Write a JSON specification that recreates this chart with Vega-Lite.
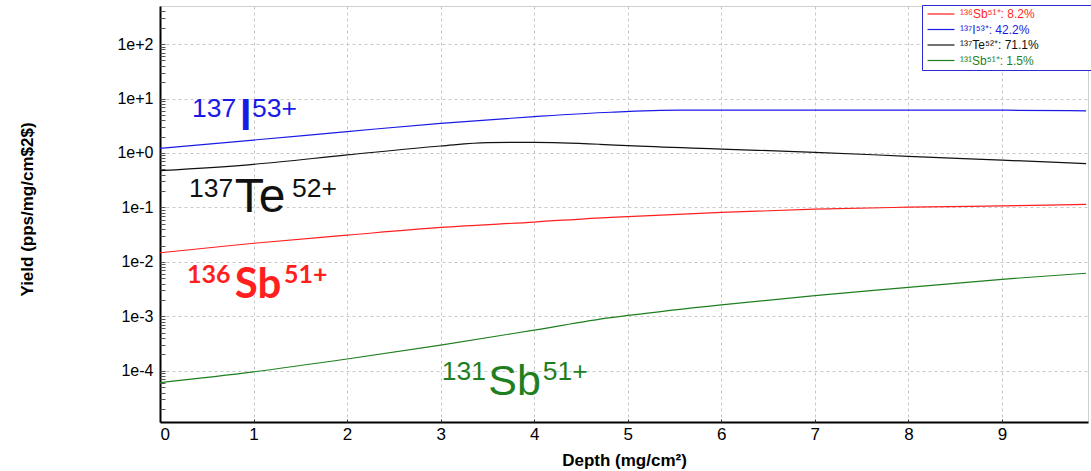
{
  "$schema": "https://vega.github.io/schema/vega-lite/v6.json",
  "width": 928,
  "height": 416,
  "autosize": "none",
  "padding": {"left": 160, "top": 6, "right": 3, "bottom": 49},
  "background": "white",
  "config": {"view": {"stroke": "#d0d0d0"}, "font": "Liberation Sans"},
  "datasets": {
    "lines": [
      {"depth": 0, "yield": 0.0147, "series": "¹³⁶Sb⁵¹⁺: 8.2%"},
      {"depth": 1, "yield": 0.022, "series": "¹³⁶Sb⁵¹⁺: 8.2%"},
      {"depth": 2, "yield": 0.031, "series": "¹³⁶Sb⁵¹⁺: 8.2%"},
      {"depth": 3, "yield": 0.043, "series": "¹³⁶Sb⁵¹⁺: 8.2%"},
      {"depth": 4, "yield": 0.054, "series": "¹³⁶Sb⁵¹⁺: 8.2%"},
      {"depth": 4.82, "yield": 0.066, "series": "¹³⁶Sb⁵¹⁺: 8.2%"},
      {"depth": 5, "yield": 0.068, "series": "¹³⁶Sb⁵¹⁺: 8.2%"},
      {"depth": 6, "yield": 0.081, "series": "¹³⁶Sb⁵¹⁺: 8.2%"},
      {"depth": 7, "yield": 0.093, "series": "¹³⁶Sb⁵¹⁺: 8.2%"},
      {"depth": 8, "yield": 0.101, "series": "¹³⁶Sb⁵¹⁺: 8.2%"},
      {"depth": 9, "yield": 0.107, "series": "¹³⁶Sb⁵¹⁺: 8.2%"},
      {"depth": 9.9, "yield": 0.114, "series": "¹³⁶Sb⁵¹⁺: 8.2%"},
      {"depth": 0, "yield": 1.22, "series": "¹³⁷I⁵³⁺: 42.2%"},
      {"depth": 1, "yield": 1.73, "series": "¹³⁷I⁵³⁺: 42.2%"},
      {"depth": 2, "yield": 2.47, "series": "¹³⁷I⁵³⁺: 42.2%"},
      {"depth": 3, "yield": 3.51, "series": "¹³⁷I⁵³⁺: 42.2%"},
      {"depth": 4, "yield": 4.65, "series": "¹³⁷I⁵³⁺: 42.2%"},
      {"depth": 4.82, "yield": 5.6, "series": "¹³⁷I⁵³⁺: 42.2%"},
      {"depth": 5.56, "yield": 6.1, "series": "¹³⁷I⁵³⁺: 42.2%"},
      {"depth": 6, "yield": 6.1, "series": "¹³⁷I⁵³⁺: 42.2%"},
      {"depth": 7, "yield": 6.1, "series": "¹³⁷I⁵³⁺: 42.2%"},
      {"depth": 8, "yield": 6.1, "series": "¹³⁷I⁵³⁺: 42.2%"},
      {"depth": 9.05, "yield": 6.1, "series": "¹³⁷I⁵³⁺: 42.2%"},
      {"depth": 9.9, "yield": 5.95, "series": "¹³⁷I⁵³⁺: 42.2%"},
      {"depth": 0, "yield": 0.473, "series": "¹³⁷Te⁵²⁺: 71.1%"},
      {"depth": 1, "yield": 0.62, "series": "¹³⁷Te⁵²⁺: 71.1%"},
      {"depth": 2, "yield": 0.92, "series": "¹³⁷Te⁵²⁺: 71.1%"},
      {"depth": 3, "yield": 1.345, "series": "¹³⁷Te⁵²⁺: 71.1%"},
      {"depth": 3.5, "yield": 1.55, "series": "¹³⁷Te⁵²⁺: 71.1%"},
      {"depth": 4, "yield": 1.57, "series": "¹³⁷Te⁵²⁺: 71.1%"},
      {"depth": 4.7, "yield": 1.445, "series": "¹³⁷Te⁵²⁺: 71.1%"},
      {"depth": 5, "yield": 1.36, "series": "¹³⁷Te⁵²⁺: 71.1%"},
      {"depth": 6, "yield": 1.18, "series": "¹³⁷Te⁵²⁺: 71.1%"},
      {"depth": 7, "yield": 1.03, "series": "¹³⁷Te⁵²⁺: 71.1%"},
      {"depth": 8, "yield": 0.87, "series": "¹³⁷Te⁵²⁺: 71.1%"},
      {"depth": 9, "yield": 0.74, "series": "¹³⁷Te⁵²⁺: 71.1%"},
      {"depth": 9.9, "yield": 0.636, "series": "¹³⁷Te⁵²⁺: 71.1%"},
      {"depth": 0, "yield": 0.000061, "series": "¹³¹Sb⁵¹⁺: 1.5%"},
      {"depth": 1, "yield": 0.000096, "series": "¹³¹Sb⁵¹⁺: 1.5%"},
      {"depth": 2, "yield": 0.000165, "series": "¹³¹Sb⁵¹⁺: 1.5%"},
      {"depth": 3, "yield": 0.000297, "series": "¹³¹Sb⁵¹⁺: 1.5%"},
      {"depth": 4, "yield": 0.00056, "series": "¹³¹Sb⁵¹⁺: 1.5%"},
      {"depth": 4.82, "yield": 0.00095, "series": "¹³¹Sb⁵¹⁺: 1.5%"},
      {"depth": 5, "yield": 0.00104, "series": "¹³¹Sb⁵¹⁺: 1.5%"},
      {"depth": 6, "yield": 0.00163, "series": "¹³¹Sb⁵¹⁺: 1.5%"},
      {"depth": 7, "yield": 0.0024, "series": "¹³¹Sb⁵¹⁺: 1.5%"},
      {"depth": 8, "yield": 0.0034, "series": "¹³¹Sb⁵¹⁺: 1.5%"},
      {"depth": 9, "yield": 0.0048, "series": "¹³¹Sb⁵¹⁺: 1.5%"},
      {"depth": 9.9, "yield": 0.0062, "series": "¹³¹Sb⁵¹⁺: 1.5%"}
    ],
    "sup": [
      {"depth": 0.342, "yield": 4.58, "label": "137", "series": "¹³⁷I⁵³⁺: 42.2%"},
      {"depth": 0.983, "yield": 4.58, "label": "53+", "series": "¹³⁷I⁵³⁺: 42.2%"},
      {"depth": 0.31, "yield": 0.1556, "label": "137", "series": "¹³⁷Te⁵²⁺: 71.1%"},
      {"depth": 1.41, "yield": 0.1556, "label": "52+", "series": "¹³⁷Te⁵²⁺: 71.1%"},
      {"depth": 3.013, "yield": 0.0000678, "label": "131", "series": "¹³¹Sb⁵¹⁺: 1.5%"},
      {"depth": 4.092, "yield": 0.0000678, "label": "51+", "series": "¹³¹Sb⁵¹⁺: 1.5%"}
    ],
    "supBold": [
      {"depth": 0.288, "yield": 0.0041, "label": "136", "series": "¹³⁶Sb⁵¹⁺: 8.2%"},
      {"depth": 1.325, "yield": 0.0041, "label": "51+", "series": "¹³⁶Sb⁵¹⁺: 8.2%"}
    ],
    "base": [
      {"depth": 0.8, "yield": 0.0825, "label": "Te", "series": "¹³⁷Te⁵²⁺: 71.1%"}
    ],
    "baseGreen": [
      {"depth": 3.51, "yield": 0.000036, "label": "Sb", "series": "¹³¹Sb⁵¹⁺: 1.5%"}
    ],
    "baseBold": [
      {"depth": 0.85, "yield": 2.64, "label": "I", "series": "¹³⁷I⁵³⁺: 42.2%"},
      {"depth": 0.8, "yield": 0.00217, "label": "Sb", "series": "¹³⁶Sb⁵¹⁺: 8.2%"}
    ]
  },
  "layer": [
    {
      "data": {"name": "lines"},
      "mark": {"type": "line", "strokeWidth": 1.2, "interpolate": "monotone"},
      "encoding": {
        "x": {
          "field": "depth", "type": "quantitative",
          "scale": {"domain": [0, 9.92], "nice": false, "zero": false},
          "axis": {
            "orient": "bottom", "values": [0, 1, 2, 3, 4, 5, 6, 7, 8, 9],
            "ticks": false, "labelPadding": 4, "labelFontSize": 17, "labelColor": "#000",
            "domainColor": "#000", "domainWidth": 2,
            "grid": true, "gridDash": [3, 3], "gridColor": "#c8c8c8",
            "title": "Depth (mg/cm²)", "titleFontSize": 17, "titleFontWeight": "bold",
            "titleY": 43, "titleBaseline": "alphabetic", "titleColor": "#000"
          }
        },
        "y": {
          "field": "yield", "type": "quantitative",
          "scale": {"type": "log", "domain": [0.0000115, 500], "nice": false},
          "axis": {
            "orient": "left",
            "values": [0.0001, 0.001, 0.01, 0.1, 1, 10, 100],
            "labelExpr": "'1e' + (log(datum.value)/LN10 >= -0.01 ? '+' : '-') + abs(round(log(datum.value)/LN10))",
            "ticks": false, "labelPadding": 7, "labelFontSize": 16, "labelColor": "#000",
            "domainColor": "#000", "domainWidth": 2,
            "grid": true, "gridDash": [3, 3], "gridColor": "#c8c8c8",
            "title": "Yield (pps/mg/cm$2$)", "titleFontSize": 17, "titleFontWeight": "bold",
            "titleColor": "#000", "titleAngle": -90, "titleX": -128, "titleY": 203,
            "titleAlign": "center", "titleBaseline": "alphabetic"
          }
        },
        "color": {
          "field": "series", "type": "nominal",
          "scale": {
            "domain": ["¹³⁶Sb⁵¹⁺: 8.2%", "¹³⁷I⁵³⁺: 42.2%", "¹³⁷Te⁵²⁺: 71.1%", "¹³¹Sb⁵¹⁺: 1.5%"],
            "range": ["#ff1f1f", "#1a1ae6", "#111111", "#1f7f1f"]
          },
          "legend": {
            "orient": "none", "legendX": 762, "legendY": -1,
            "title": "MMMM", "titleOrient": "right", "titleOpacity": 0, "titleFontSize": 12, "titlePadding": 20,
            "symbolType": "M-3.6,0L3.6,0", "symbolSize": 56, "symbolStrokeWidth": 1.2,
            "symbolOffset": 10,
            "labelFontSize": 12, "labelFont": "Liberation Sans", "labelOffset": 13,
            "fillColor": "white", "strokeColor": "#2a2ad0", "padding": 3, "rowPadding": 3.5,
            "encode": {"labels": {"update": {
              "fill": {"scale": "color", "field": "value"}
            }}}
          }
        }
      }
    },
    {
      "data": {"name": "sup"},
      "mark": {"type": "text", "align": "left", "baseline": "alphabetic", "fontSize": 26.5, "font": "Liberation Sans"},
      "encoding": {
        "x": {"field": "depth", "type": "quantitative", "axis": null},
        "y": {"field": "yield", "type": "quantitative", "axis": null},
        "text": {"field": "label"},
        "color": {"field": "series", "type": "nominal"}
      }
    },
    {
      "data": {"name": "supBold"},
      "mark": {"type": "text", "align": "left", "baseline": "alphabetic", "fontSize": 25, "font": "Lato", "fontWeight": "bold"},
      "encoding": {
        "x": {"field": "depth", "type": "quantitative", "axis": null},
        "y": {"field": "yield", "type": "quantitative", "axis": null},
        "text": {"field": "label"},
        "color": {"field": "series", "type": "nominal"}
      }
    },
    {
      "data": {"name": "base"},
      "mark": {"type": "text", "align": "left", "baseline": "alphabetic", "fontSize": 48, "font": "Liberation Sans"},
      "encoding": {
        "x": {"field": "depth", "type": "quantitative",
          "axis": {"orient": "bottom", "values": [1, 2, 3, 4, 5, 6, 7, 8, 9], "labels": false, "grid": false, "domain": false, "ticks": true, "tickSize": -3, "tickColor": "#333", "title": null}},
        "y": {"field": "yield", "type": "quantitative",
          "axis": {"orient": "left",
            "values": [0.00002, 0.00003, 0.00004, 0.00005, 0.00006, 0.00007, 0.00008, 0.00009, 0.0001, 0.0002, 0.0003, 0.0004, 0.0005, 0.0006, 0.0007, 0.0008, 0.0009, 0.001, 0.002, 0.003, 0.004, 0.005, 0.006, 0.007, 0.008, 0.009, 0.01, 0.02, 0.03, 0.04, 0.05, 0.06, 0.07, 0.08, 0.09, 0.1, 0.2, 0.3, 0.4, 0.5, 0.6, 0.7, 0.8, 0.9, 1, 2, 3, 4, 5, 6, 7, 8, 9, 10, 20, 30, 40, 50, 60, 70, 80, 90, 100, 200, 300, 400],
            "labels": false, "grid": false, "domain": false, "ticks": true, "tickSize": -5, "tickColor": "#555", "title": null}},
        "text": {"field": "label"},
        "color": {"field": "series", "type": "nominal"}
      }
    },
    {
      "data": {"name": "baseGreen"},
      "mark": {"type": "text", "align": "left", "baseline": "alphabetic", "fontSize": 43, "font": "Liberation Sans"},
      "encoding": {
        "x": {"field": "depth", "type": "quantitative", "axis": null},
        "y": {"field": "yield", "type": "quantitative", "axis": null},
        "text": {"field": "label"},
        "color": {"field": "series", "type": "nominal"}
      }
    },
    {
      "data": {"name": "baseBold"},
      "mark": {"type": "text", "align": "left", "baseline": "alphabetic", "fontSize": 42, "font": "Lato", "fontWeight": "bold"},
      "encoding": {
        "x": {"field": "depth", "type": "quantitative", "axis": null},
        "y": {"field": "yield", "type": "quantitative", "axis": null},
        "text": {"field": "label"},
        "color": {"field": "series", "type": "nominal"}
      }
    }
  ],
  "resolve": {"axis": {"x": "independent", "y": "independent"}}
}
